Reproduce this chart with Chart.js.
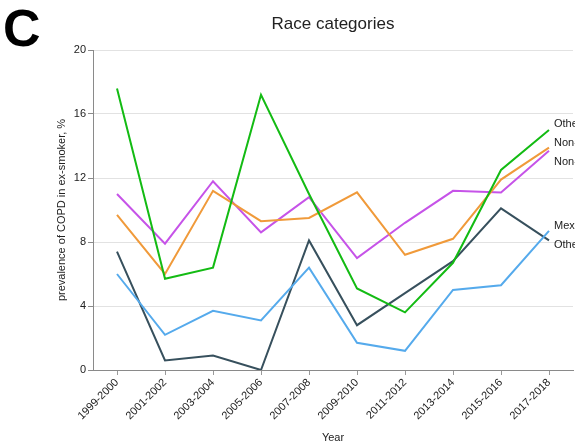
<!DOCTYPE html>
<html>
<head>
<meta charset="utf-8">
<title>Race categories</title>
<script src="https://cdn.jsdelivr.net/npm/chart.js@4/dist/chart.umd.min.js"></script>
<style>
  html, body { margin: 0; padding: 0; background: #ffffff; }
  #wrap { width: 575px; height: 445px; position: relative; }
</style>
</head>
<body>
<div id="wrap"><canvas id="chart" width="575" height="445"></canvas></div>
<script>
// Survey cycles
const years = ['1999-2000', '2001-2002', '2003-2004', '2005-2006', '2007-2008',
               '2009-2010', '2011-2012', '2013-2014', '2015-2016', '2017-2018'];

// Prevalence of COPD in ex-smokers (%) by race category
const otherRace        = [17.6, 5.7, 6.4, 17.2, 11.0, 5.1, 3.6, 6.7, 12.5, 15.0];
const nonHispanicWhite = [9.7, 6.0, 11.2, 9.3, 9.5, 11.1, 7.2, 8.2, 11.9, 13.9];
const nonHispanicBlack = [11.0, 7.9, 11.8, 8.6, 10.8, 7.0, 9.2, 11.2, 11.1, 13.7];
const mexicanAmerican  = [6.0, 2.2, 3.7, 3.1, 6.4, 1.7, 1.2, 5.0, 5.3, 8.7];
const otherHispanic    = [7.4, 0.6, 0.9, 0.0, 8.1, 2.8, 4.8, 6.8, 10.1, 8.1];

const seriesNames = ['Other Race', 'Non-Hispanic White', 'Non-Hispanic Black',
                     'Mexican American', 'Other Hispanic'];
const yTicks = [0, 4, 8, 12, 16, 20];

const FONT = "'Liberation Sans', Arial, Helvetica, sans-serif";
const colors = ['#13bb13', '#f09a3a', '#c653e8', '#55aaec', '#37505d'];
const seriesData = [otherRace, nonHispanicWhite, nonHispanicBlack, mexicanAmerican, otherHispanic];

// Panel letter and chart title
const headerPlugin = {
  id: 'header',
  afterDraw(chart) {
    const ctx = chart.ctx;
    ctx.save();
    ctx.fillStyle = '#000000';
    ctx.font = 'bold 52px ' + FONT;
    ctx.textAlign = 'left';
    ctx.textBaseline = 'alphabetic';
    ctx.fillText('C', 3, 46);
    const area = chart.chartArea;
    ctx.fillStyle = '#222222';
    ctx.font = '17px ' + FONT;
    ctx.textAlign = 'center';
    ctx.textBaseline = 'middle';
    ctx.fillText('Race categories', (area.left + area.right) / 2, 24);
    ctx.restore();
  }
};

// Series names written at the end of each line, spread apart so they do not overlap
const endLabelPlugin = {
  id: 'endLabels',
  afterDatasetsDraw(chart) {
    const ctx = chart.ctx;
    const items = chart.data.datasets.map((ds, i) => {
      const meta = chart.getDatasetMeta(i);
      const last = meta.data[meta.data.length - 1];
      return { text: ds.label, x: last.x + 5, y: last.y, target: last.y };
    });
    items.sort((a, b) => a.y - b.y);
    const gap = 19;
    for (let iter = 0; iter < 200; iter++) {
      let moved = false;
      for (let k = 1; k < items.length; k++) {
        const d = items[k].y - items[k - 1].y;
        if (d < gap) {
          const push = (gap - d) / 2;
          items[k - 1].y -= push;
          items[k].y += push;
          moved = true;
        }
      }
      if (!moved) break;
    }
    ctx.save();
    ctx.fillStyle = '#222222';
    ctx.font = '11px ' + FONT;
    ctx.textAlign = 'left';
    ctx.textBaseline = 'middle';
    items.forEach(it => ctx.fillText(it.text, it.x, it.y));
    ctx.restore();
  }
};

const datasets = seriesNames.map((name, i) => ({
  label: name,
  data: seriesData[i],
  borderColor: colors[i],
  backgroundColor: colors[i],
  borderWidth: 2,
  pointRadius: 0,
  pointHoverRadius: 0,
  tension: 0,
  fill: false
}));

new Chart(document.getElementById('chart'), {
  type: 'line',
  data: { labels: years, datasets: datasets },
  plugins: [headerPlugin, endLabelPlugin],
  options: {
    responsive: false,
    animation: false,
    events: [],
    layout: { padding: { top: 50, right: 2, bottom: 0, left: 0 } },
    plugins: {
      legend: { display: false },
      title: { display: false },
      tooltip: { enabled: false }
    },
    scales: {
      x: {
        type: 'category',
        offset: true,
        afterFit(scale) { scale.height = 75; },
        grid: {
          drawOnChartArea: false,
          drawTicks: true,
          tickLength: 5,
          tickColor: '#9a9a9a',
          offset: false
        },
        border: { display: true, color: '#8a8a8a', width: 1 },
        ticks: {
          autoSkip: false,
          maxRotation: 45,
          minRotation: 45,
          padding: 1,
          color: '#222222',
          font: { family: FONT, size: 11 }
        },
        title: {
          display: true,
          text: 'Year',
          color: '#222222',
          font: { family: FONT, size: 11 },
          padding: { top: 1, bottom: 0 }
        }
      },
      y: {
        min: 0,
        max: 20,
        afterFit(scale) { scale.width = 93; },
        afterBuildTicks(scale) { scale.ticks = yTicks.map(v => ({ value: v })); },
        grid: {
          color: '#e2e2e2',
          lineWidth: 1,
          drawTicks: true,
          tickLength: 5,
          tickColor: '#8a8a8a'
        },
        border: { display: true, color: '#8a8a8a', width: 1 },
        ticks: {
          padding: 2,
          color: '#222222',
          font: { family: FONT, size: 11 }
        },
        title: {
          display: true,
          text: 'prevalence of COPD in ex-smoker, %',
          color: '#222222',
          font: { family: FONT, size: 11 },
          padding: { top: 55, bottom: 0 }
        }
      }
    }
  }
});
</script>
</body>
</html>
